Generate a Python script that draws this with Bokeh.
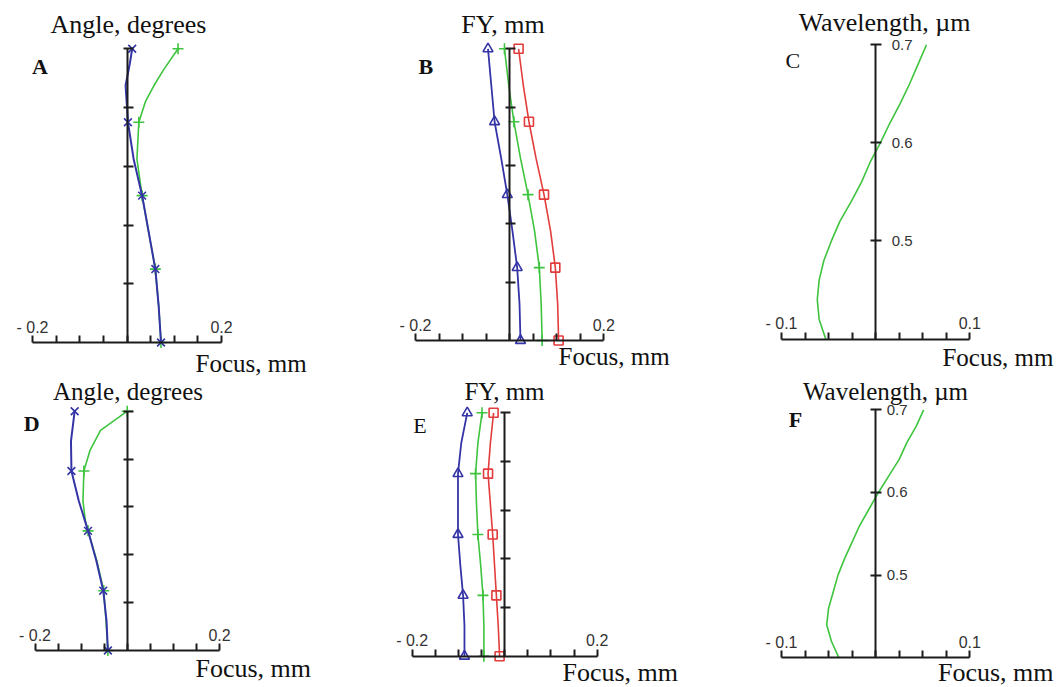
from bokeh.plotting import figure
from bokeh.models import Range1d, LinearAxis, FixedTicker, Label
from bokeh.layouts import column, row
from bokeh.embed import file_html
from bokeh.resources import INLINE

# ---------------- data ----------------
# A: focus shift vs field angle (tangential = blue x, sagittal = green +)
a_angle_t = [0, 2.5, 5, 7.5, 10, 12.5, 15, 17.5, 19, 20]
a_focus_t = [0.072, 0.067, 0.060, 0.046, 0.032, 0.014, 0.002, -0.003, 0.006, 0.011]
a_angle_s = [0, 2.5, 5, 7.5, 10, 12.5, 15, 16.4, 17.5, 18.6, 20]
a_focus_s = [0.072, 0.067, 0.060, 0.046, 0.032, 0.021, 0.025, 0.039, 0.057, 0.078, 0.108]

# D: same, second design
d_angle_t = [0, 2.5, 5, 7.5, 10, 12.5, 15, 17.5, 20]
d_focus_t = [-0.042, -0.045, -0.052, -0.067, -0.085, -0.105, -0.121, -0.122, -0.114]
d_angle_s = [0, 2.5, 5, 7.5, 10, 10.9, 12.5, 15, 16.7, 18.4, 19.5, 20]
d_focus_s = [-0.042, -0.046, -0.051, -0.066, -0.085, -0.091, -0.096, -0.094, -0.081, -0.058, -0.018, 0.0]

angle_marks = [0, 5, 10, 15, 20]
angle_minor = [4, 8, 12, 16, 20]

# B / E: focus vs relative field height FY (blue triangles, green +, red squares)
fy = [0, 0.125, 0.25, 0.375, 0.5, 0.625, 0.75, 0.875, 1.0]
b_blue = [0.023, 0.021, 0.016, 0.006, -0.005, -0.018, -0.032, -0.039, -0.046]
b_green = [0.069, 0.067, 0.063, 0.053, 0.039, 0.023, 0.009, -0.002, -0.011]
b_red = [0.104, 0.102, 0.097, 0.087, 0.073, 0.056, 0.041, 0.029, 0.019]
e_blue = [-0.087, -0.087, -0.090, -0.096, -0.101, -0.101, -0.101, -0.094, -0.081]
e_green = [-0.045, -0.045, -0.047, -0.052, -0.058, -0.061, -0.063, -0.058, -0.049]
e_red = [-0.011, -0.014, -0.018, -0.022, -0.026, -0.031, -0.036, -0.031, -0.024]
fy_marks = [0, 0.25, 0.5, 0.75, 1.0]
fy_minor = [0.2, 0.4, 0.6, 0.8, 1.0]

# C / F: chromatic focal shift vs wavelength
wl = [0.40, 0.42, 0.44, 0.46, 0.48, 0.50, 0.52, 0.54, 0.56, 0.58, 0.60, 0.62, 0.64, 0.66, 0.68, 0.70]
c_focus = [-0.053, -0.060, -0.062, -0.060, -0.055, -0.047, -0.038, -0.026, -0.015, -0.006,
           0.005, 0.015, 0.026, 0.036, 0.045, 0.054]
f_focus = [-0.039, -0.047, -0.052, -0.050, -0.045, -0.040, -0.033, -0.025, -0.017, -0.007,
           0.003, 0.014, 0.025, 0.033, 0.043, 0.051]
wl_ticks = [0.5, 0.6, 0.7]

focus_ticks_wide = [-0.2, 0.2]
focus_labels_wide = ["- 0.2", "0.2"]
focus_minor_wide = [-0.15, -0.1, -0.05, 0.0, 0.05, 0.1, 0.15]
focus_ticks_narrow = [-0.1, 0.1]
focus_labels_narrow = ["- 0.1", "0.1"]
focus_minor_narrow = [-0.075, -0.05, -0.025, 0.0, 0.025, 0.05, 0.075]

# ---------------- style ----------------
BLUE = "#3434a6"
GREEN = "#3ec43e"
RED = "#e23c3c"
AXC = "#1c1c1c"
SERIF = "Liberation Serif"
SANS = "Liberation Sans"
BASE_FIX = 8.5   # rendered alphabetic baseline sits this many px below the anchor


def make_panel(W, H, ox, oy, xcal, ycal):
    (xa, pxa), (xb, pxb) = xcal
    (ya, pya), (yb, pyb) = ycal
    sx = (pxb - pxa) / (xb - xa)
    x0 = xa - (pxa - ox) / sx
    x1 = x0 + W / sx
    sy = (pya - pyb) / (yb - ya)
    y1 = yb + (pyb - oy) / sy
    y0 = y1 - H / sy
    p = figure(width=W, height=H, x_range=Range1d(x0, x1), y_range=Range1d(y0, y1),
               x_axis_location=None, y_axis_location=None, toolbar_location=None,
               output_backend="svg", min_border=0, outline_line_color=None,
               background_fill_color="white", border_fill_color="white")
    p.grid.visible = False

    def X(px):
        return x0 + (px - ox) / sx

    def Y(py):
        return y1 - (py - oy) / sy

    return p, X, Y


def add_axes(p, ybase, ytop, xticks, xlabels, xminor, yticks, yminor, ystand):
    xa = LinearAxis(fixed_location=ybase,
                    ticker=FixedTicker(ticks=xticks, minor_ticks=xminor),
                    bounds=(xticks[0], xticks[-1]),
                    major_label_overrides={t: s for t, s in zip(xticks, xlabels)},
                    axis_line_width=2, axis_line_color=AXC,
                    major_tick_in=0, major_tick_out=7, minor_tick_in=0, minor_tick_out=7,
                    major_tick_line_width=2, minor_tick_line_width=2,
                    major_tick_line_color=AXC, minor_tick_line_color=AXC,
                    major_label_standoff=0, major_label_text_font=SANS,
                    major_label_text_font_size="16px", major_label_text_color="#333333")
    p.add_layout(xa, "above")
    ya = LinearAxis(fixed_location=0,
                    ticker=FixedTicker(ticks=yticks, minor_ticks=yminor),
                    bounds=(ybase, ytop),
                    axis_line_width=2, axis_line_color=AXC,
                    major_tick_in=5, major_tick_out=6, minor_tick_in=4, minor_tick_out=6,
                    major_tick_line_width=2, minor_tick_line_width=2,
                    major_tick_line_color=AXC, minor_tick_line_color=AXC,
                    major_label_standoff=ystand, major_label_text_font=SANS,
                    major_label_text_font_size="15px", major_label_text_color="#333333")
    p.add_layout(ya, "right")


def text(p, X, Y, px, py, s, size, align="left", bold=False):
    p.add_layout(Label(x=X(px), y=Y(py - BASE_FIX), text=s, text_font=SERIF,
                       text_font_size=size, text_align=align, text_baseline="alphabetic",
                       text_font_style="bold" if bold else "normal", text_color="#111111"))


def pick(vals, pos, keep):
    sel = [(v, q) for v, q in zip(vals, pos) if q in keep]
    return [v for v, _ in sel], [q for _, q in sel]


def angle_panel(W, H, ox, oy, xcal, ycal, t_ang, t_foc, s_ang, s_foc,
                letter, lpos, title_pos, focus_pos):
    p, X, Y = make_panel(W, H, ox, oy, xcal, ycal)
    add_axes(p, 0, 20, focus_ticks_wide, focus_labels_wide, focus_minor_wide, [], angle_minor, 0)
    p.line(s_foc, s_ang, line_color=GREEN, line_width=1.6)
    mx, my = pick(s_foc, s_ang, angle_marks)
    p.scatter(mx, my, marker="cross", size=11, line_color=GREEN, line_width=1.6)
    p.line(t_foc, t_ang, line_color=BLUE, line_width=2)
    mx, my = pick(t_foc, t_ang, angle_marks)
    p.scatter(mx, my, marker="x", size=11, line_color=BLUE, line_width=1.6)
    text(p, X, Y, title_pos[0], title_pos[1], "Angle, degrees", title_pos[2], align="center")
    text(p, X, Y, lpos[0], lpos[1], letter, "22px", bold=lpos[2])
    text(p, X, Y, focus_pos[0], focus_pos[1], "Focus, mm", focus_pos[2])
    return p


def fy_panel(W, H, ox, oy, xcal, ycal, blue, green, red, letter, lpos, title_pos, focus_pos):
    p, X, Y = make_panel(W, H, ox, oy, xcal, ycal)
    add_axes(p, 0, 1, focus_ticks_wide, focus_labels_wide, focus_minor_wide, [], fy_minor, 0)
    p.line(blue, fy, line_color=BLUE, line_width=1.8)
    p.line(green, fy, line_color=GREEN, line_width=1.6)
    p.line(red, fy, line_color=RED, line_width=1.6)
    xb, yb = pick(blue, fy, fy_marks)
    xg, yg = pick(green, fy, fy_marks)
    xr, yr = pick(red, fy, fy_marks)
    p.scatter(xb, yb, marker="triangle", size=10, line_color=BLUE, fill_color=None, line_width=1.6)
    p.scatter(xg, yg, marker="cross", size=11, line_color=GREEN, line_width=1.6)
    p.scatter(xr, yr, marker="square", size=9, line_color=RED, fill_color=None, line_width=1.6)
    text(p, X, Y, title_pos[0], title_pos[1], "FY, mm", title_pos[2], align="center")
    text(p, X, Y, lpos[0], lpos[1], letter, "22px", bold=lpos[2])
    text(p, X, Y, focus_pos[0], focus_pos[1], "Focus, mm", focus_pos[2])
    return p


def wl_panel(W, H, ox, oy, xcal, ycal, focus, ystand, letter, lpos, title_pos, focus_pos):
    p, X, Y = make_panel(W, H, ox, oy, xcal, ycal)
    add_axes(p, 0.4, 0.7, focus_ticks_narrow, focus_labels_narrow, focus_minor_narrow,
             wl_ticks, [], ystand)
    p.line(focus, wl, line_color=GREEN, line_width=1.6)
    text(p, X, Y, title_pos[0], title_pos[1], "Wavelength, \u00b5m", title_pos[2], align="center")
    text(p, X, Y, lpos[0], lpos[1], letter, "22px", bold=lpos[2])
    text(p, X, Y, focus_pos[0], focus_pos[1], "Focus, mm", focus_pos[2], align="right")
    return p


W1, W2, W3 = 340, 360, 356
H1, H2 = 377, 309
R2 = H1

pA = angle_panel(W1, H1, 0, 0, ((-0.2, 32), (0.2, 221)), ((0, 342), (20, 48.3)),
                 a_angle_t, a_focus_t, a_angle_s, a_focus_s,
                 "A", (31.5, 74, True), (128, 32, "26px"), (195, 371, "25px"))
pB = fy_panel(W2, H1, 340, 0, ((-0.2, 415), (0.2, 603.3)), ((0, 340), (1, 48.3)),
              b_blue, b_green, b_red, "B", (418, 74, True), (502.5, 32, "26px"),
              (558, 364, "25px"))
pC = wl_panel(W3, H1, 700, 0, ((-0.1, 781), (0.1, 969.3)), ((0.4, 338.5), (0.7, 44.3)),
              c_focus, 10, "C", (785, 68.5, False), (884, 30, "26px"), (1053, 365, "25px"))
pD = angle_panel(W1, H2, 0, R2, ((-0.2, 34.5), (0.2, 219)), ((0, 650), (20, 410.7)),
                 d_angle_t, d_focus_t, d_angle_s, d_focus_s,
                 "D", (23.3, 431.7, True), (127.5, 399.5, "25px"), (195, 676, "26px"))
pE = fy_panel(W2, H2, 340, R2, ((-0.2, 411.7), (0.2, 596.7)), ((0, 655.7), (1, 412.3)),
              e_blue, e_green, e_red, "E", (412.7, 433, False), (504, 399.5, "25px"),
              (562, 680, "26px"))
pF = wl_panel(W3, H2, 700, R2, ((-0.1, 781), (0.1, 969.3)), ((0.4, 657.3), (0.7, 409.3)),
              f_focus, 5, "F", (788.3, 427.3, True), (885, 399.5, "25px"), (1053, 680, "26px"))

layout = column(row(pA, pB, pC, spacing=0), row(pD, pE, pF, spacing=0), spacing=0)

open("out.html", "w").write(file_html(layout, INLINE))
